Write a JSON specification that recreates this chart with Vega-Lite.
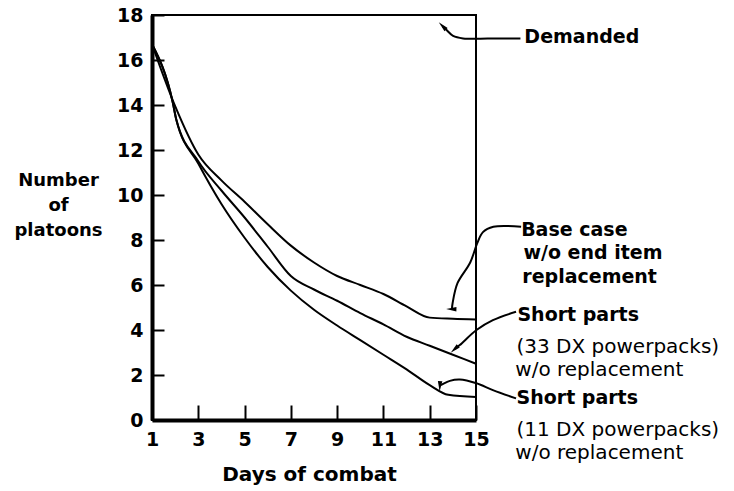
{
  "$schema": "https://vega.github.io/schema/vega-lite/v6.json",
  "width": 324,
  "height": 405,
  "autosize": {"type": "none"},
  "padding": {"left": 152, "top": 15, "right": 258, "bottom": 71},
  "background": "white",
  "config": {
    "view": {"stroke": "black", "strokeWidth": 2},
    "font": "DejaVu Sans"
  },
  "datasets": {
    "curves": [
      {"series": "Demanded", "day": 1, "value": 18},
      {"series": "Demanded", "day": 15, "value": 18},
      {"series": "Base case", "day": 1, "value": 16.7},
      {"series": "Base case", "day": 2, "value": 13.95},
      {"series": "Base case", "day": 3, "value": 11.8},
      {"series": "Base case", "day": 4, "value": 10.65},
      {"series": "Base case", "day": 5, "value": 9.7},
      {"series": "Base case", "day": 6, "value": 8.7},
      {"series": "Base case", "day": 7, "value": 7.75},
      {"series": "Base case", "day": 8, "value": 7.0},
      {"series": "Base case", "day": 9, "value": 6.4},
      {"series": "Base case", "day": 10, "value": 6.0},
      {"series": "Base case", "day": 11, "value": 5.6},
      {"series": "Base case", "day": 12, "value": 5.05},
      {"series": "Base case", "day": 13, "value": 4.55},
      {"series": "Base case", "day": 14, "value": 4.5},
      {"series": "Base case", "day": 15, "value": 4.47},
      {"series": "33 DX", "day": 1, "value": 16.7},
      {"series": "33 DX", "day": 1.9, "value": 14.1},
      {"series": "33 DX", "day": 2.05, "value": 13.35},
      {"series": "33 DX", "day": 3, "value": 11.5},
      {"series": "33 DX", "day": 4, "value": 10.2},
      {"series": "33 DX", "day": 5, "value": 9.0},
      {"series": "33 DX", "day": 6, "value": 7.7},
      {"series": "33 DX", "day": 7, "value": 6.4},
      {"series": "33 DX", "day": 8, "value": 5.8},
      {"series": "33 DX", "day": 9, "value": 5.3},
      {"series": "33 DX", "day": 10, "value": 4.75},
      {"series": "33 DX", "day": 11, "value": 4.25},
      {"series": "33 DX", "day": 12, "value": 3.7},
      {"series": "33 DX", "day": 13, "value": 3.3},
      {"series": "33 DX", "day": 14, "value": 2.9},
      {"series": "33 DX", "day": 15, "value": 2.5},
      {"series": "11 DX", "day": 1, "value": 16.7},
      {"series": "11 DX", "day": 1.9, "value": 14.1},
      {"series": "11 DX", "day": 2.05, "value": 13.35},
      {"series": "11 DX", "day": 3, "value": 11.4},
      {"series": "11 DX", "day": 4, "value": 9.6},
      {"series": "11 DX", "day": 5, "value": 8.1},
      {"series": "11 DX", "day": 6, "value": 6.8},
      {"series": "11 DX", "day": 7, "value": 5.75},
      {"series": "11 DX", "day": 8, "value": 4.9},
      {"series": "11 DX", "day": 9, "value": 4.2},
      {"series": "11 DX", "day": 10, "value": 3.55},
      {"series": "11 DX", "day": 11, "value": 2.9},
      {"series": "11 DX", "day": 12, "value": 2.25},
      {"series": "11 DX", "day": 13, "value": 1.55},
      {"series": "11 DX", "day": 13.8, "value": 1.12},
      {"series": "11 DX", "day": 15, "value": 1.02}
    ],
    "leaders": [
      {"label": "Demanded", "seq": 1, "day": 16.92, "value": 16.96},
      {"label": "Demanded", "seq": 2, "day": 16.0, "value": 16.96},
      {"label": "Demanded", "seq": 3, "day": 14.44, "value": 16.96},
      {"label": "Demanded", "seq": 4, "day": 14.01, "value": 17.07},
      {"label": "Demanded", "seq": 5, "day": 13.73, "value": 17.33},
      {"label": "Demanded", "seq": 6, "day": 13.57, "value": 17.49},
      {"label": "Base case", "seq": 1, "day": 16.95, "value": 8.59},
      {"label": "Base case", "seq": 2, "day": 15.75, "value": 8.59},
      {"label": "Base case", "seq": 3, "day": 15.3, "value": 8.35},
      {"label": "Base case", "seq": 4, "day": 15.05, "value": 7.85},
      {"label": "Base case", "seq": 5, "day": 14.75, "value": 7.0},
      {"label": "Base case", "seq": 6, "day": 14.2, "value": 6.08},
      {"label": "Base case", "seq": 7, "day": 13.99, "value": 5.2},
      {"label": "Base case", "seq": 8, "day": 13.96, "value": 4.93},
      {"label": "33 DX", "seq": 1, "day": 16.73, "value": 4.81},
      {"label": "33 DX", "seq": 2, "day": 15.73, "value": 4.44},
      {"label": "33 DX", "seq": 3, "day": 15.02, "value": 4.0},
      {"label": "33 DX", "seq": 4, "day": 14.3, "value": 3.33},
      {"label": "33 DX", "seq": 5, "day": 14.09, "value": 3.16},
      {"label": "11 DX", "seq": 1, "day": 16.73, "value": 0.96},
      {"label": "11 DX", "seq": 2, "day": 15.73, "value": 1.33},
      {"label": "11 DX", "seq": 3, "day": 15.02, "value": 1.63},
      {"label": "11 DX", "seq": 4, "day": 14.3, "value": 1.8},
      {"label": "11 DX", "seq": 5, "day": 13.87, "value": 1.74},
      {"label": "11 DX", "seq": 6, "day": 13.44, "value": 1.53}
    ],
    "arrows": [
      {"label": "Demanded", "day": 13.57, "value": 17.49},
      {"label": "Base case", "day": 13.96, "value": 4.93},
      {"label": "33 DX", "day": 14.09, "value": 3.16},
      {"label": "11 DX", "day": 13.44, "value": 1.53}
    ],
    "notes": [
      {"text": "Demanded", "role": "head", "day": 17.09, "value": 17.02},
      {"text": "Base case", "role": "head", "day": 16.95, "value": 8.44},
      {"text": "w/o end item", "role": "head", "day": 17.05, "value": 7.42},
      {"text": "replacement", "role": "head", "day": 17.0, "value": 6.36},
      {"text": "Short parts", "role": "head", "day": 16.79, "value": 4.67},
      {"text": "(33 DX powerpacks)", "role": "detail", "day": 16.75, "value": 3.24},
      {"text": "w/o replacement", "role": "detail", "day": 16.7, "value": 2.22},
      {"text": "Short parts", "role": "head", "day": 16.75, "value": 0.98},
      {"text": "(11 DX powerpacks)", "role": "detail", "day": 16.75, "value": -0.44},
      {"text": "w/o replacement", "role": "detail", "day": 16.7, "value": -1.47}
    ]
  },
  "layer": [
    {
      "data": {"name": "curves"},
      "mark": {"type": "line", "interpolate": "monotone", "color": "black", "strokeWidth": 2},
      "encoding": {
        "x": {
          "field": "day", "type": "quantitative",
          "scale": {"domain": [1, 15], "nice": false, "zero": false},
          "axis": {
            "title": "Days of combat",
            "values": [1, 3, 5, 7, 9, 11, 13, 15],
            "grid": false,
            "domainColor": "black", "domainWidth": 4,
            "tickColor": "black", "tickWidth": 2, "tickSize": -15,
            "labelFont": "DejaVu Sans", "labelFontSize": 19, "labelFontWeight": "bold", "labelColor": "black",
            "labelPadding": 25, "labelFlush": false,
            "titleFont": "DejaVu Sans", "titleFontSize": 20, "titleFontWeight": "bold", "titleColor": "black",
            "titleBaseline": "alphabetic", "titleY": 60, "titleX": 157
          }
        },
        "y": {
          "field": "value", "type": "quantitative",
          "scale": {"domain": [0, 18], "nice": false},
          "axis": {
            "title": ["Number", "of", "platoons"],
            "values": [0, 2, 4, 6, 8, 10, 12, 14, 16, 18],
            "grid": false,
            "domainColor": "black", "domainWidth": 4,
            "tickColor": "black", "tickWidth": 2, "tickSize": -12,
            "labelFont": "DejaVu Sans", "labelFontSize": 19, "labelFontWeight": "bold", "labelColor": "black",
            "labelPadding": 21, "labelFlush": false,
            "titleFont": "DejaVu Sans", "titleFontSize": 18, "titleFontWeight": "bold", "titleColor": "black",
            "titleAngle": 0, "titleAlign": "center", "titleBaseline": "alphabetic",
            "titleX": -94, "titleY": 170, "titleLineHeight": 25
          }
        },
        "detail": {"field": "series", "type": "nominal"}
      }
    },
    {
      "data": {"name": "leaders"},
      "mark": {"type": "line", "interpolate": "catmull-rom", "color": "black", "strokeWidth": 2, "clip": false},
      "encoding": {
        "x": {"field": "day", "type": "quantitative"},
        "y": {"field": "value", "type": "quantitative"},
        "detail": {"field": "label", "type": "nominal"},
        "order": {"field": "seq", "type": "quantitative"}
      }
    },
    {
      "data": {"name": "arrows"},
      "mark": {"type": "point", "shape": "M-0.5,1L0,-1.3L0.5,1Z", "filled": true, "color": "black", "opacity": 1, "size": 80},
      "encoding": {
        "x": {"field": "day", "type": "quantitative"},
        "y": {"field": "value", "type": "quantitative"},
        "angle": {
          "field": "label", "type": "nominal",
          "scale": {"domain": ["Demanded", "Base case", "33 DX", "11 DX"], "range": [315, 183, 230, 252]},
          "legend": null
        }
      }
    },
    {
      "data": {"name": "notes"},
      "transform": [{"filter": "datum.role === 'head'"}],
      "mark": {"type": "text", "align": "left", "baseline": "middle", "font": "DejaVu Sans", "fontSize": 19, "fontWeight": "bold", "color": "black"},
      "encoding": {
        "x": {"field": "day", "type": "quantitative"},
        "y": {"field": "value", "type": "quantitative"},
        "text": {"field": "text", "type": "nominal"}
      }
    },
    {
      "data": {"name": "notes"},
      "transform": [{"filter": "datum.role === 'detail'"}],
      "mark": {"type": "text", "align": "left", "baseline": "middle", "font": "DejaVu Sans", "fontSize": 20, "fontWeight": "normal", "color": "black"},
      "encoding": {
        "x": {"field": "day", "type": "quantitative"},
        "y": {"field": "value", "type": "quantitative"},
        "text": {"field": "text", "type": "nominal"}
      }
    }
  ]
}
